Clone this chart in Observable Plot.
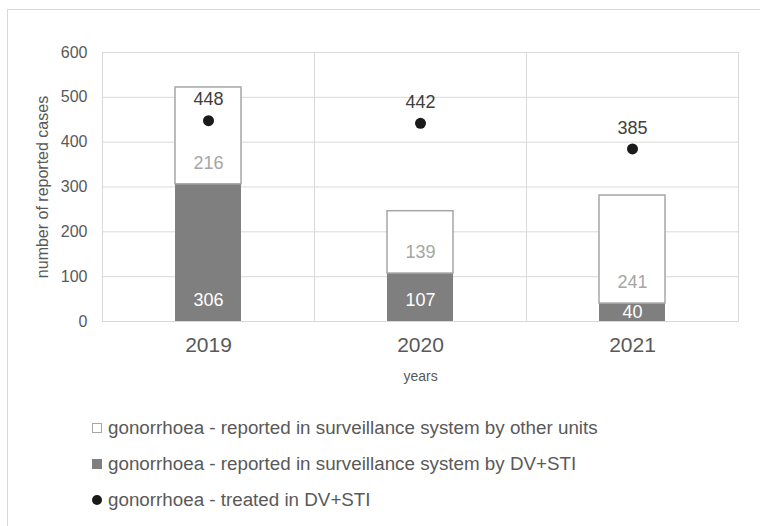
<!DOCTYPE html>
<html>
<head>
<meta charset="utf-8">
<script src="https://cdn.jsdelivr.net/npm/d3@7"></script>
<script src="https://cdn.jsdelivr.net/npm/@observablehq/plot@0.6"></script>
<style>
  html, body { margin: 0; padding: 0; background: #fff; }
  body { width: 760px; height: 526px; position: relative; overflow: hidden; font-family: "Liberation Sans", Arial, sans-serif; }
  #border { position: absolute; left: 7px; top: 9px; width: 800px; height: 600px; border-left: 1px solid #d9d9d9; border-top: 1px solid #d9d9d9; pointer-events: none; }
  #chart { position: absolute; left: 0; top: 0; }
  #legend { position: absolute; left: 92px; top: 410px; color: #595959; font-size: 18.8px; }
  .row { height: 36px; line-height: 36px; display: flex; align-items: center; white-space: nowrap; }
  .sw { width: 10px; height: 10px; margin-right: 6px; box-sizing: border-box; flex: none; }
</style>
</head>
<body>
<div id="border"></div>
<div id="chart"></div>
<div id="legend"></div>
<script>
const years = ["2019", "2020", "2021"];
const dvSti = [306, 107, 40];
const otherUnits = [216, 139, 241];
const treated = [448, 442, 385];
const yTicks = [0, 100, 200, 300, 400, 500, 600];
const seriesNames = [
  "gonorrhoea - reported in surveillance system by other units",
  "gonorrhoea - reported in surveillance system by DV+STI",
  "gonorrhoea - treated in DV+STI"
];

const colDark = "#7f7f7f";
const colStroke = "#a6a6a6";

const segs = [];
years.forEach((yr, i) => {
  segs.push({year: yr, series: "dv", y1: 0, y2: dvSti[i], value: dvSti[i]});
  segs.push({year: yr, series: "other", y1: dvSti[i], y2: dvSti[i] + otherUnits[i], value: otherUnits[i]});
});
const pts = years.map((yr, i) => ({year: yr, value: treated[i]}));

const chart = Plot.plot({
  width: 760,
  height: 395,
  marginLeft: 101,
  marginRight: 22,
  marginTop: 52,
  marginBottom: 74,
  style: {fontFamily: "'Liberation Sans', Arial, sans-serif", color: "#595959", background: "transparent", overflow: "visible"},
  fx: {domain: years, padding: 0},
  x: {domain: ["bar"], padding: 0.525, axis: null},
  y: {domain: [0, 600]},
  marks: [
    Plot.gridY(yTicks, {stroke: "#d9d9d9", strokeOpacity: 1, strokeWidth: 1}),
    Plot.frame({stroke: "#d9d9d9", strokeWidth: 1}),
    Plot.axisY({ticks: yTicks, tickSize: 0, tickPadding: 15, fontSize: 16, label: "number of reported cases", labelAnchor: "center", labelArrow: "none", labelOffset: 66}),
    Plot.axisFx({anchor: "bottom", tickSize: 0, tickPadding: 16, fontSize: 21, label: "years", labelAnchor: "center", labelArrow: "none", labelOffset: 59}),
    Plot.barY(segs, {
      fx: "year", x: () => "bar", y1: "y1", y2: "y2",
      fill: d => d.series === "dv" ? colDark : "#ffffff",
      stroke: d => d.series === "dv" ? "none" : colStroke,
      strokeWidth: 1.5
    }),
    Plot.text(segs, {
      fx: "year", x: () => "bar",
      y: d => d.y1 + Math.min(d.value / 2, 47),
      text: d => String(d.value),
      fill: d => d.series === "dv" ? "#ffffff" : "#a6a6a6",
      fontSize: 18
    }),
    Plot.dot(pts, {fx: "year", x: () => "bar", y: "value", r: 5.5, fill: "#1a1a1a", stroke: "none"}),
    Plot.text(pts, {fx: "year", x: () => "bar", y: "value", text: d => String(d.value), dy: -21, fill: "#404040", fontSize: 18})
  ]
});
document.getElementById("chart").appendChild(chart);
d3.select(chart).selectAll("[aria-label='fx-axis label'], [aria-label='fx-axis label'] text").attr("font-size", 14);

const legend = d3.select("#legend");
const swatches = [
  {bg: "#ffffff", border: "1px solid " + colStroke, radius: "0"},
  {bg: colDark, border: "none", radius: "0"},
  {bg: "#1a1a1a", border: "none", radius: "50%"}
];
seriesNames.forEach((name, i) => {
  const row = legend.append("div").attr("class", "row");
  row.append("div").attr("class", "sw")
    .style("background", swatches[i].bg)
    .style("border", swatches[i].border)
    .style("border-radius", swatches[i].radius);
  row.append("span").text(name);
});
</script>
</body>
</html>
